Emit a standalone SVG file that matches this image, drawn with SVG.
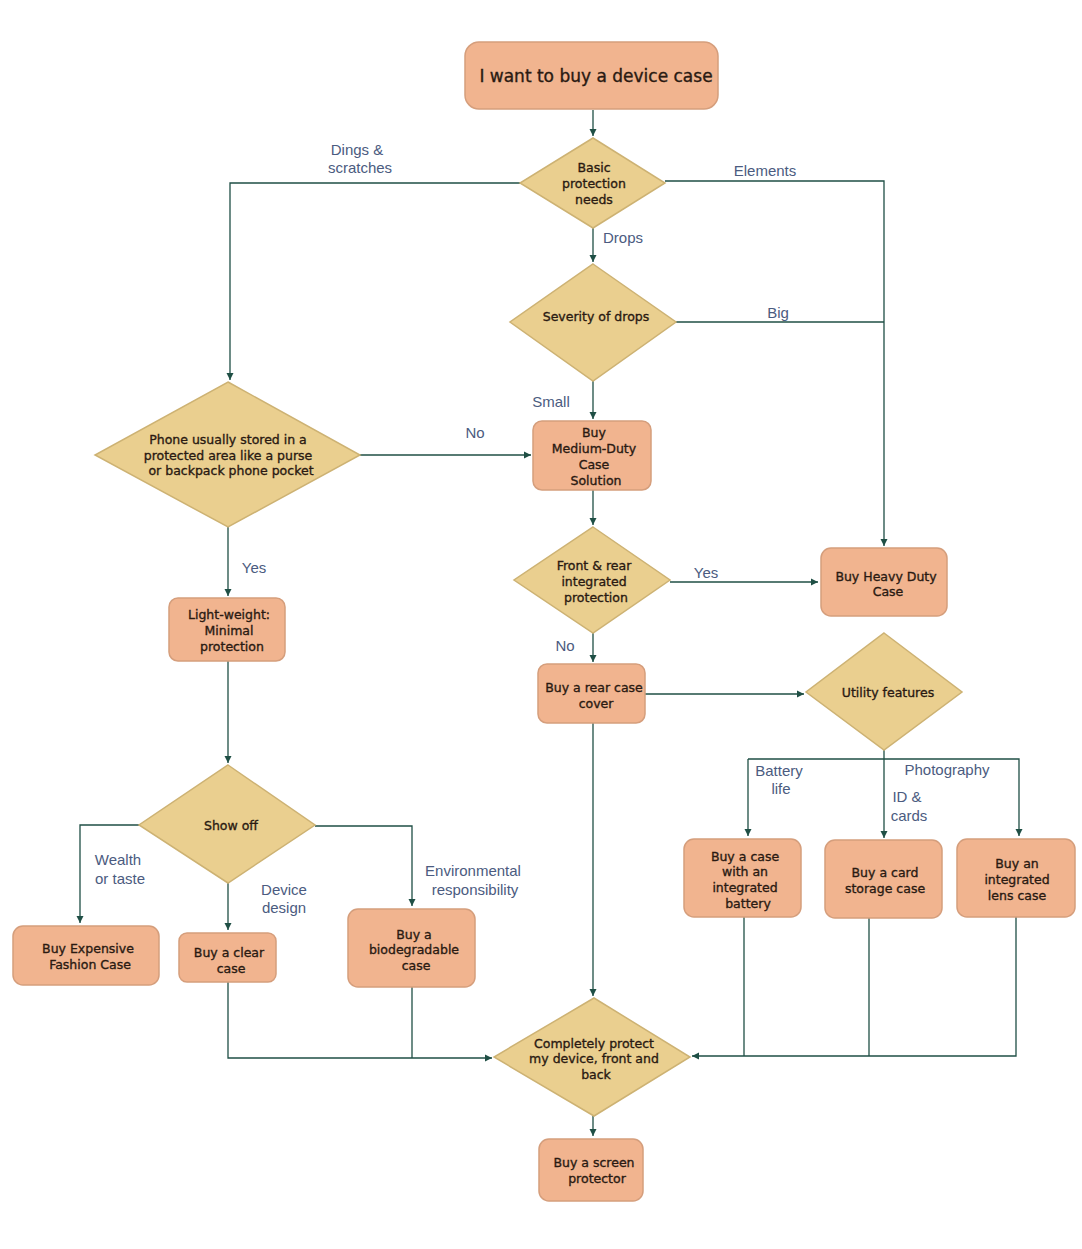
<svg xmlns="http://www.w3.org/2000/svg" width="1082" height="1249" viewBox="0 0 1082 1249">
<style>
.box{fill:#F1B48F;stroke:#D59E7C;stroke-width:1.5}
.dia{fill:#EACF8F;stroke:#CDB273;stroke-width:1.5}
.t{font-family:"DejaVu Sans",sans-serif;font-size:12.5px;fill:#2A1A12;stroke:#2A1A12;stroke-width:0.35;text-anchor:middle}
.big{font-size:17px}
.lbl{font-family:"Liberation Sans",Arial,sans-serif;font-size:15px;fill:#4B5B80;text-anchor:middle}
.c{fill:none;stroke:#1F4F45;stroke-width:1.3}
</style>
<defs>
<marker id="ah" markerWidth="8" markerHeight="8" refX="7" refY="4" orient="auto" markerUnits="userSpaceOnUse">
<path d="M0,0.5 L7,4 L0,7.5 Z" fill="#1F4F45"/>
</marker>
</defs>
<rect width="1082" height="1249" fill="#fff"/>
<g id="connectors">
<path class="c" d="M593,110 V136" marker-end="url(#ah)"/>
<path class="c" d="M520,183 H230 V380" marker-end="url(#ah)"/>
<path class="c" d="M665,181 H884 V546" marker-end="url(#ah)"/>
<path class="c" d="M593,228 V262" marker-end="url(#ah)"/>
<path class="c" d="M676,322 H884"/>
<path class="c" d="M593,381 V419" marker-end="url(#ah)"/>
<path class="c" d="M360,455 H531" marker-end="url(#ah)"/>
<path class="c" d="M228,527 V596" marker-end="url(#ah)"/>
<path class="c" d="M228,661 V763" marker-end="url(#ah)"/>
<path class="c" d="M139,825 H80 V923" marker-end="url(#ah)"/>
<path class="c" d="M228,883 V930" marker-end="url(#ah)"/>
<path class="c" d="M315,826 H412 V906" marker-end="url(#ah)"/>
<path class="c" d="M228,982 V1058 H492" marker-end="url(#ah)"/>
<path class="c" d="M412,987 V1058"/>
<path class="c" d="M593,490 V525" marker-end="url(#ah)"/>
<path class="c" d="M670,582 H818" marker-end="url(#ah)"/>
<path class="c" d="M593,633 V662" marker-end="url(#ah)"/>
<path class="c" d="M645,694 H804" marker-end="url(#ah)"/>
<path class="c" d="M884,750 V838" marker-end="url(#ah)"/>
<path class="c" d="M748,759 H1019 V836" marker-end="url(#ah)"/>
<path class="c" d="M748,759 V836" marker-end="url(#ah)"/>
<path class="c" d="M593,723 V996" marker-end="url(#ah)"/>
<path class="c" d="M744,917 V1056"/>
<path class="c" d="M869,918 V1056"/>
<path class="c" d="M1016,917 V1056 H692" marker-end="url(#ah)"/>
<path class="c" d="M593,1116 V1136" marker-end="url(#ah)"/>
</g>
<g id="labels">
<text class="lbl" x="357" y="155">Dings &amp;</text>
<text class="lbl" x="360" y="173">scratches</text>
<text class="lbl" x="765" y="176">Elements</text>
<text class="lbl" x="623" y="243">Drops</text>
<text class="lbl" x="778" y="318">Big</text>
<text class="lbl" x="551" y="407">Small</text>
<text class="lbl" x="475" y="438">No</text>
<text class="lbl" x="254" y="573">Yes</text>
<text class="lbl" x="706" y="578">Yes</text>
<text class="lbl" x="565" y="651">No</text>
<text class="lbl" x="118" y="865">Wealth</text>
<text class="lbl" x="120" y="884">or taste</text>
<text class="lbl" x="284" y="895">Device</text>
<text class="lbl" x="284" y="913">design</text>
<text class="lbl" x="473" y="876">Environmental</text>
<text class="lbl" x="475" y="895">responsibility</text>
<text class="lbl" x="779" y="776">Battery</text>
<text class="lbl" x="781" y="794">life</text>
<text class="lbl" x="907" y="802">ID &amp;</text>
<text class="lbl" x="909" y="821">cards</text>
<text class="lbl" x="947" y="775">Photography</text>
</g>
<g id="start"><rect class="box" x="465" y="42" width="253" height="67" rx="14"/><text class="t big" x="596" y="82">I want to buy a device case</text></g>
<g id="basic"><polygon class="dia" points="593,138 665,183 593,228 520,183"/><text class="t" x="594" y="172">Basic</text><text class="t" x="594" y="188">protection</text><text class="t" x="594" y="204">needs</text></g>
<g id="severity"><polygon class="dia" points="593,264 676,322 593,381 510,322"/><text class="t" x="596" y="321">Severity of drops</text></g>
<g id="medium"><rect class="box" x="533" y="421" width="118" height="69" rx="9"/><text class="t" x="594" y="437">Buy</text><text class="t" x="594" y="453">Medium-Duty</text><text class="t" x="594" y="469">Case</text><text class="t" x="596" y="485">Solution</text></g>
<g id="phone"><polygon class="dia" points="228,382 360,455 228,527 95,455"/><text class="t" x="228" y="444">Phone usually stored in a</text><text class="t" x="228" y="460">protected area like a purse</text><text class="t" x="231" y="475">or backpack phone pocket</text></g>
<g id="lightweight"><rect class="box" x="169" y="598" width="116" height="63" rx="9"/><text class="t" x="229" y="619">Light-weight:</text><text class="t" x="229" y="635">Minimal</text><text class="t" x="232" y="651">protection</text></g>
<g id="showoff"><polygon class="dia" points="228,765 315,825 228,883 139,825"/><text class="t" x="231" y="830">Show off</text></g>
<g id="fashion"><rect class="box" x="13" y="926" width="146" height="59" rx="10"/><text class="t" x="88" y="953">Buy Expensive</text><text class="t" x="90" y="969">Fashion Case</text></g>
<g id="clear"><rect class="box" x="179" y="933" width="97" height="49" rx="8"/><text class="t" x="229" y="957">Buy a clear</text><text class="t" x="231" y="973">case</text></g>
<g id="biodegradable"><rect class="box" x="348" y="909" width="127" height="78" rx="10"/><text class="t" x="414" y="939">Buy a</text><text class="t" x="414" y="954">biodegradable</text><text class="t" x="416" y="970">case</text></g>
<g id="frontrear"><polygon class="dia" points="593,527 670,580 593,633 514,580"/><text class="t" x="594" y="570">Front &amp; rear</text><text class="t" x="594" y="586">integrated</text><text class="t" x="596" y="602">protection</text></g>
<g id="heavy"><rect class="box" x="821" y="548" width="126" height="68" rx="10"/><text class="t" x="886" y="581">Buy Heavy Duty</text><text class="t" x="888" y="596">Case</text></g>
<g id="rear"><rect class="box" x="538" y="664" width="107" height="59" rx="9"/><text class="t" x="594" y="692">Buy a rear case</text><text class="t" x="596" y="708">cover</text></g>
<g id="utility"><polygon class="dia" points="884,633 962,692 884,750 806,692"/><text class="t" x="888" y="697">Utility features</text></g>
<g id="battery"><rect class="box" x="684" y="839" width="117" height="78" rx="10"/><text class="t" x="745" y="861">Buy a case</text><text class="t" x="745" y="876">with an</text><text class="t" x="745" y="892">integrated</text><text class="t" x="748" y="908">battery</text></g>
<g id="card"><rect class="box" x="825" y="840" width="117" height="78" rx="10"/><text class="t" x="885" y="877">Buy a card</text><text class="t" x="885" y="893">storage case</text></g>
<g id="lens"><rect class="box" x="957" y="839" width="118" height="78" rx="10"/><text class="t" x="1017" y="868">Buy an</text><text class="t" x="1017" y="884">integrated</text><text class="t" x="1017" y="900">lens case</text></g>
<g id="complete"><polygon class="dia" points="594,998 690,1057 594,1116 494,1057"/><text class="t" x="594" y="1048">Completely protect</text><text class="t" x="594" y="1063">my device, front and</text><text class="t" x="596" y="1079">back</text></g>
<g id="screen"><rect class="box" x="539" y="1139" width="104" height="62" rx="10"/><text class="t" x="594" y="1167">Buy a screen</text><text class="t" x="597" y="1183">protector</text></g>
</svg>
